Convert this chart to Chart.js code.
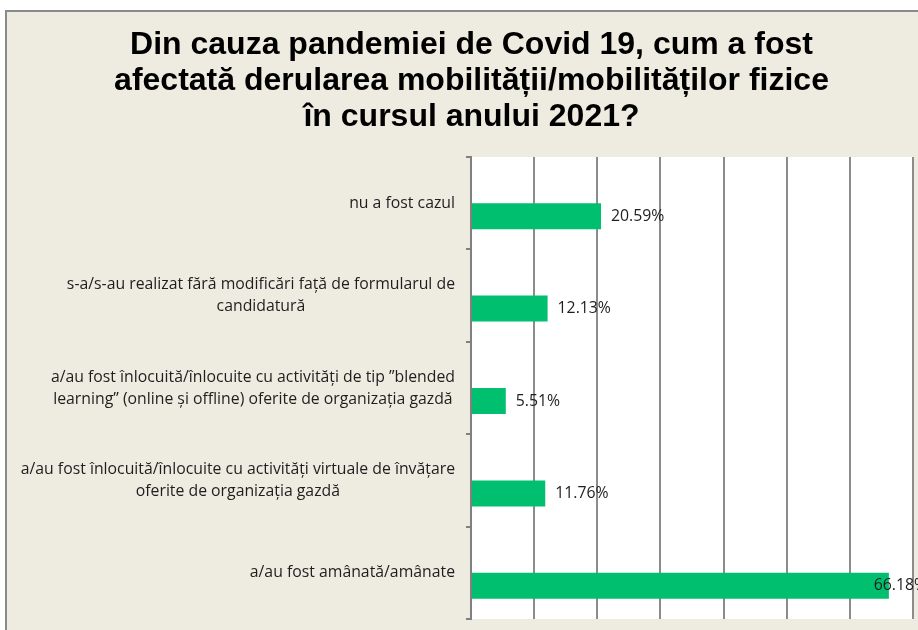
<!DOCTYPE html>
<html>
<head>
<meta charset="utf-8">
<script src="https://cdn.jsdelivr.net/npm/chart.js@4.4.1/dist/chart.umd.min.js"></script>
<style>
  html, body { margin: 0; padding: 0; background: #fff; overflow: hidden; }
  #frame {
    position: absolute; left: 5px; top: 10px;
    width: 911px; height: 618px;
    border-left: 2px solid #8a8a8a; border-top: 2px solid #8a8a8a;
    background: #eeece1;
  }
  canvas { display: block; }
</style>
</head>
<body>
<div id="frame"><canvas id="myChart" width="911" height="618"></canvas></div>
<script>
var titleLines = [
  "Din cauza pandemiei de Covid 19, cum a fost",
  "afectată derularea mobilității/mobilităților fizice",
  "în cursul anului 2021?",
];

var categories = [
  ["nu a fost cazul"],
  ["s-a/s-au realizat fără modificări față de formularul de", "candidatură"],
  ["a/au fost înlocuită/înlocuite cu activități de tip ”blended", "learning” (online și offline) oferite de organizația gazdă"],
  ["a/au fost înlocuită/înlocuite cu activități virtuale de învățare", "oferite de organizația gazdă"],
  ["a/au fost amânată/amânate"],
];

var percentages = [20.59, 12.13, 5.51, 11.76, 66.18];
var emptySeries = [null, null, null, null, null];
var xTicks = { min: 0, max: 70, step: 10 };

var labelFont = "15.8px 'Open Sans', sans-serif";

// white plot background
var plotBackground = {
  id: "plotBackground",
  beforeDraw: function (chart) {
    var a = chart.chartArea;
    var ctx = chart.ctx;
    ctx.save();
    ctx.fillStyle = "#ffffff";
    ctx.fillRect(a.left, a.top, a.right - a.left, a.bottom - a.top);
    ctx.restore();
  },
};

// three-line title, centred on the whole chart frame
var titleBlock = {
  id: "titleBlock",
  afterDraw: function (chart) {
    var ctx = chart.ctx;
    ctx.save();
    ctx.font = "bold 32px 'Liberation Sans', Arial, sans-serif";
    ctx.fillStyle = "#000";
    ctx.textAlign = "center";
    ctx.textBaseline = "alphabetic";
    titleLines.forEach(function (line, i) {
      ctx.fillText(line, 464.5, 42 + i * 36);
    });
    ctx.restore();
  },
};

// category labels: block right-aligned to the axis, lines centred inside it
var categoryLabels = {
  id: "categoryLabels",
  afterDraw: function (chart) {
    var ctx = chart.ctx;
    var yScale = chart.scales.y;
    var right = chart.chartArea.left - 16;
    var lh = 22;
    ctx.save();
    ctx.font = labelFont;
    ctx.fillStyle = "#1e1e1e";
    ctx.textAlign = "center";
    ctx.textBaseline = "middle";
    categories.forEach(function (lines, i) {
      var y = yScale.getPixelForValue(i);
      var widest = 0;
      lines.forEach(function (l) {
        widest = Math.max(widest, ctx.measureText(l).width);
      });
      var cx = right - widest / 2;
      var top = y - ((lines.length - 1) * lh) / 2;
      lines.forEach(function (l, j) {
        ctx.fillText(l, cx, top + j * lh);
      });
    });
    ctx.restore();
  },
};

// value labels just past the end of each bar
var valueLabels = {
  id: "valueLabels",
  afterDatasetsDraw: function (chart) {
    var ctx = chart.ctx;
    var meta = chart.getDatasetMeta(1);
    var limit = 920;
    ctx.save();
    ctx.font = labelFont;
    ctx.fillStyle = "#1e1e1e";
    ctx.textAlign = "left";
    ctx.textBaseline = "middle";
    meta.data.forEach(function (bar, i) {
      var text = percentages[i].toFixed(2) + "%";
      var w = ctx.measureText(text).width;
      var x = Math.min(bar.x + 10, limit - w);
      ctx.fillText(text, x, bar.y);
    });
    ctx.restore();
  },
};

var ctx = document.getElementById("myChart").getContext("2d");

var myChart = new Chart(ctx, {
  type: "bar",
  data: {
    labels: categories,
    datasets: [
      {
        data: emptySeries,
        backgroundColor: "#00bf6f",
      },
      {
        data: percentages,
        backgroundColor: "#00bf6f",
        borderWidth: 0,
      },
    ],
  },
  options: {
    indexAxis: "y",
    responsive: false,
    animation: false,
    categoryPercentage: 0.563,
    barPercentage: 1,
    layout: {
      padding: { left: 0, right: 5, top: 145, bottom: 11 },
    },
    plugins: {
      legend: { display: false },
      title: { display: false },
      tooltip: { enabled: false },
    },
    scales: {
      x: {
        min: xTicks.min,
        max: xTicks.max,
        ticks: { display: false, stepSize: xTicks.step },
        grid: {
          color: "#8c8c8c",
          lineWidth: 2,
          drawTicks: false,
        },
        border: { display: false },
      },
      y: {
        ticks: { display: false },
        grid: {
          offset: true,
          drawOnChartArea: false,
          tickLength: 5,
          color: "#808080",
          lineWidth: 2,
        },
        border: { color: "#808080", width: 2 },
        afterFit: function (scale) {
          scale.width = 464;
        },
      },
    },
  },
  plugins: [plotBackground, titleBlock, categoryLabels, valueLabels],
});
</script>
</body>
</html>
